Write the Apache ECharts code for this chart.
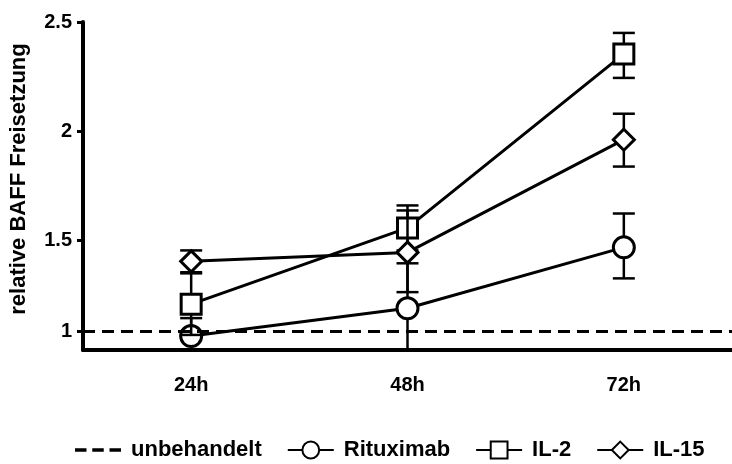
<!DOCTYPE html>
<html><head><meta charset="utf-8">
<script src="https://cdn.jsdelivr.net/npm/echarts@6/dist/echarts.min.js"></script>
<style>html,body{margin:0;padding:0;background:#fff}#c{width:732px;height:464px}</style>
</head><body><div id="c"></div>
<script>
const categories = ['24h', '48h', '72h'];
const yTicks = [1, 1.5, 2, 2.5];
const unbehandelt = 1;
const rituximab = [0.977, 1.189, 1.468];
const rituximabLow = [0.85, 0.85, 1.326];
const rituximabHigh = [1.144, 1.395, 1.623];
const il2 = [1.208, 1.557, 2.354];
const il2Low = [0.982, 1.454, 2.244];
const il2High = [1.349, 1.660, 2.450];
const il15 = [1.404, 1.445, 1.961];
const il15Low = [1.354, 1.263, 1.838];
const il15High = [1.454, 1.637, 2.080];

const FONT = 'Liberation Sans';
const chart = echarts.init(document.getElementById('c'), null, {renderer: 'canvas'});

function errSeries(name, low, high, z) {
  return {
    type: 'custom', name: name, z: z, silent: true, clip: true,
    data: categories.map((c, i) => [i, low[i], high[i]]),
    renderItem: function (params, api) {
      const x = api.value(0);
      const lo = api.coord([x, api.value(1)]);
      const hi = api.coord([x, api.value(2)]);
      const hw = 11;
      const style = {stroke: '#000', lineWidth: 2.5, fill: null};
      return {type: 'group', children: [
        {type: 'line', shape: {x1: lo[0], y1: lo[1], x2: hi[0], y2: hi[1]}, style: style},
        {type: 'line', shape: {x1: lo[0] - hw, y1: lo[1], x2: lo[0] + hw, y2: lo[1]}, style: style},
        {type: 'line', shape: {x1: hi[0] - hw, y1: hi[1], x2: hi[0] + hw, y2: hi[1]}, style: style}
      ]};
    }
  };
}
function lineSeries(name, data, symbol, size, z) {
  return {
    type: 'line', name: name, data: data, symbol: symbol, symbolSize: size, z: z,
    itemStyle: {color: '#fff', borderColor: '#000', borderWidth: 3},
    lineStyle: {color: '#000', width: 3},
    emphasis: {disabled: true}
  };
}

chart.setOption({
  animation: false,
  backgroundColor: '#fff',
  grid: {left: 82, right: -10, top: 22, bottom: 114},
  xAxis: {
    type: 'category', data: categories, boundaryGap: true,
    axisLine: {onZero: false, lineStyle: {color: '#000', width: 4}},
    axisTick: {alignWithLabel: true, length: 6, lineStyle: {color: '#000', width: 3}},
    axisLabel: {color: '#000', fontWeight: 'bold', fontSize: 20, fontFamily: FONT, margin: 25},
    splitLine: {show: false}
  },
  yAxis: {
    type: 'value', min: 0.913, max: 2.5,
    breaks: [{start: 1.0, end: 1.085, gap: 0}],
    breakArea: {show: false},
    axisLine: {show: true, lineStyle: {color: '#000', width: 4}},
    axisTick: {show: true, length: 6, customValues: yTicks, lineStyle: {color: '#000', width: 3}},
    axisLabel: {customValues: yTicks, color: '#000', fontWeight: 'bold', fontSize: 20, fontFamily: FONT, margin: 11,
      formatter: v => String(v)},
    splitLine: {show: false},
    name: 'relative BAFF Freisetzung', nameLocation: 'middle', nameGap: 53,
    nameTextStyle: {color: '#000', fontWeight: 'bold', fontSize: 22, fontFamily: FONT, padding: [0, 0, 0, 14]}
  },
  legend: {
    data: [
      {name: 'unbehandelt', icon: 'path://M0,0h12v3.5h-12z M18,0h12v3.5h-12z M36,0h12v3.5h-12z'},
      'Rituximab', 'IL-2', 'IL-15'
    ],
    bottom: -2, left: 70, itemWidth: 46, itemHeight: 21, itemGap: 25,
    textStyle: {color: '#000', fontWeight: 'bold', fontSize: 22, fontFamily: FONT, padding: [0, 0, 0, 5]}
  },
  series: [
    errSeries('Rituximab SEM', rituximabLow, rituximabHigh, 2),
    lineSeries('Rituximab', rituximab, 'circle', 21, 3),
    errSeries('IL-2 SEM', il2Low, il2High, 4),
    lineSeries('IL-2', il2, 'rect', 20, 5),
    errSeries('IL-15 SEM', il15Low, il15High, 6),
    lineSeries('IL-15', il15, 'diamond', 21, 7),
    {
      type: 'line', name: 'unbehandelt', data: [], symbol: 'none', z: 8,
      lineStyle: {color: '#000', width: 3, type: [12, 7]},
      itemStyle: {color: '#000'},
      markLine: {
        silent: true, symbol: ['none', 'none'], label: {show: false},
        lineStyle: {color: '#000', width: 3, type: [12, 7]},
        data: [{yAxis: unbehandelt}]
      }
    }
  ]
});
</script>
</body></html>
